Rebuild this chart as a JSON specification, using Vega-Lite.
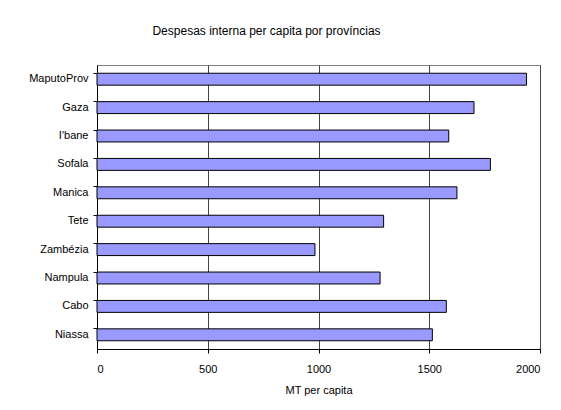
{
  "$schema": "https://vega.github.io/schema/vega-lite/v6.json",
  "width": 443,
  "height": 284,
  "autosize": {"type": "none"},
  "padding": {"left": 97, "top": 65, "right": 21, "bottom": 61},
  "background": "white",
  "title": {
    "text": "Despesas interna per capita por províncias",
    "font": "Liberation Sans",
    "fontSize": 12,
    "fontWeight": "normal",
    "color": "black",
    "anchor": "middle",
    "frame": "group",
    "dx": -52,
    "offset": 27
  },
  "data": {
    "values": [
      {"provincia": "MaputoProv", "valor": 1939},
      {"provincia": "Gaza", "valor": 1702},
      {"provincia": "I'bane", "valor": 1588},
      {"provincia": "Sofala", "valor": 1776},
      {"provincia": "Manica", "valor": 1625},
      {"provincia": "Tete", "valor": 1294},
      {"provincia": "Zambézia", "valor": 984},
      {"provincia": "Nampula", "valor": 1278},
      {"provincia": "Cabo", "valor": 1577},
      {"provincia": "Niassa", "valor": 1514}
    ]
  },
  "mark": {"type": "bar", "fill": "#9999FF", "stroke": "black", "strokeWidth": 1},
  "encoding": {
    "y": {
      "field": "provincia",
      "type": "nominal",
      "sort": null,
      "scale": {"paddingInner": 0.58, "paddingOuter": 0.29},
      "axis": {
        "title": null,
        "bandPosition": 0,
        "grid": false,
        "domainColor": "black",
        "tickColor": "black",
        "tickSize": 4,
        "labelPadding": 5,
        "labelFont": "Liberation Sans",
        "labelFontSize": 11,
        "labelColor": "black"
      }
    },
    "x": {
      "field": "valor",
      "type": "quantitative",
      "scale": {"domain": [0, 2000], "nice": false},
      "axis": {
        "title": "MT per capita",
        "values": [0, 500, 1000, 1500, 2000],
        "format": "d",
        "grid": true,
        "gridColor": "#444444",
        "gridWidth": 1,
        "domainColor": "black",
        "tickColor": "black",
        "tickSize": 4,
        "labelPadding": 10,
        "labelFont": "Liberation Sans",
        "labelFontSize": 11,
        "labelColor": "black",
        "titleFont": "Liberation Sans",
        "titleFontSize": 11,
        "titleFontWeight": "normal",
        "titleColor": "black",
        "titlePadding": 10
      }
    }
  },
  "config": {
    "view": {"stroke": "#808080", "strokeWidth": 1}
  }
}
